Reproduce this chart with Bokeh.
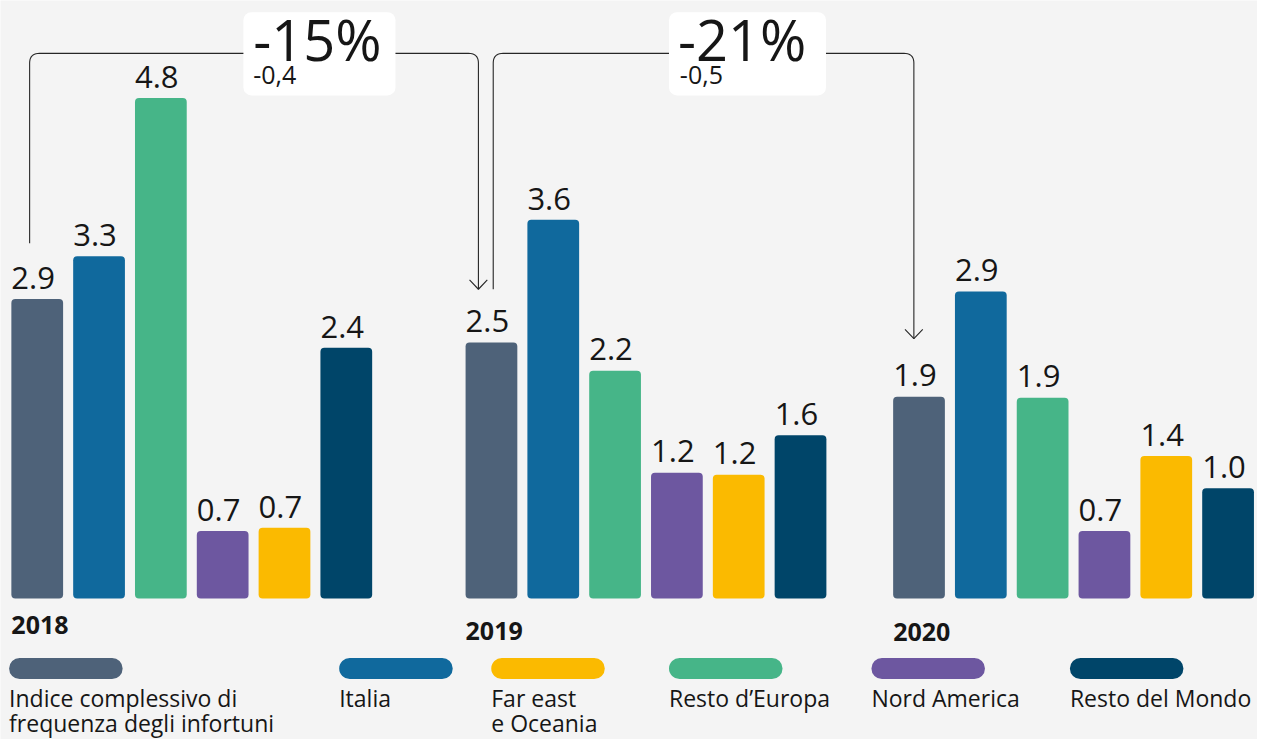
import math
from bokeh.plotting import figure
from bokeh.models import ColumnDataSource, Range1d
from bokeh.core.properties import value
from bokeh.embed import file_html
from bokeh.resources import INLINE

# ---------------- data ----------------
years = ["2018", "2019", "2020"]
series = ["Indice complessivo di\nfrequenza degli infortuni", "Italia", "Resto d’Europa",
          "Nord America", "Far east\ne Oceania", "Resto del Mondo"]
colors = ["#4e6279", "#10699d", "#46b588", "#6d57a0", "#fbba00", "#004569"]
values_2018 = [2.88, 3.29, 4.81, 0.65, 0.68, 2.41]
values_2019 = [2.46, 3.64, 2.19, 1.21, 1.19, 1.57]
values_2020 = [1.94, 2.95, 1.93, 0.65, 1.37, 1.06]
labels_2018 = ["2.9", "3.3", "4.8", "0.7", "0.7", "2.4"]
labels_2019 = ["2.5", "3.6", "2.2", "1.2", "1.2", "1.6"]
labels_2020 = ["1.9", "2.9", "1.9", "0.7", "1.4", "1.0"]
changes_pct = ["-15%", "-21%"]
changes_abs = ["-0,4", "-0,5"]
legend_order = [0, 1, 4, 2, 3, 5]

all_values = [values_2018, values_2019, values_2020]
all_labels = [labels_2018, labels_2019, labels_2020]

# ---------------- layout (reference pixel space) ----------------
PX = 106.3          # reference pixels per unit
BASE = 611.0        # reference y of bar baseline
SY = 739 / 755      # screen px per reference px (vertical)
def Y(ypx):
    return (BASE - ypx) / PX

def TY(baseline_px, fs):
    # compensate for the line-box based placement of alphabetic text
    return Y(baseline_px - 0.37 * fs / SY)

GROUP_LEFT = [11, 471, 904]
PITCH = 62.6
BAR_W = 52.4
YEAR_BASE = [647.7, 653.3, 655.0]
LEG_LEFT = [8.7, 343, 497, 677, 882, 1083]
LEG_W = 115
FONT = "Open Sans"
TXT = "#161616"
BG = "#f4f4f4"
FS_VAL, FS_YEAR, FS_PCT, FS_ABS, FS_LEG = 31, 25, 56, 25, 23

p = figure(width=1257, height=739, x_range=Range1d(0, 1273), y_range=Range1d(Y(755), Y(0)),
           output_backend="svg", toolbar_location=None, min_border=0)
p.axis.visible = False
p.xgrid.visible = False
p.ygrid.visible = False
p.outline_line_color = None
p.background_fill_color = BG
p.border_fill_color = BG

# ---------------- bars ----------------
xs, tops, cols, lx, ly, labs = [], [], [], [], [], []
for g in range(3):
    for i in range(6):
        left = GROUP_LEFT[g] + i * PITCH
        xs.append(left + BAR_W / 2)
        tops.append(all_values[g][i])
        cols.append(colors[i])
        lx.append(left)
        ly.append(all_values[g][i] + (10 + 0.37 * FS_VAL / SY) / PX)
        labs.append(all_labels[g][i])
src = ColumnDataSource(dict(x=xs, top=tops, color=cols, lx=lx, ly=ly, lab=labs))
p.vbar(x="x", top="top", bottom=0, width=BAR_W, fill_color="color", line_color=None,
       border_radius=4, source=src)
p.text(x="lx", y="ly", text="lab", source=src, text_font=value(FONT),
       text_font_size=f"{FS_VAL}px", text_color=TXT, text_align="left",
       text_baseline="alphabetic")

# year labels
p.text(x=[GROUP_LEFT[g] for g in range(3)], y=[TY(b, FS_YEAR) for b in YEAR_BASE], text=years,
       text_font=value(FONT), text_font_size=f"{FS_YEAR}px", text_font_style="bold",
       text_color=TXT, text_align="left", text_baseline="alphabetic")

# ---------------- connectors ----------------
def rounded(pts, r=10, n=10):
    out = [pts[0]]
    for k in range(1, len(pts) - 1):
        (x0, y0), (x1, y1), (x2, y2) = pts[k - 1], pts[k], pts[k + 1]
        l1 = math.hypot(x1 - x0, y1 - y0)
        l2 = math.hypot(x2 - x1, y2 - y1)
        ax, ay = x1 - (x1 - x0) / l1 * r, y1 - (y1 - y0) / l1 * r
        bx, by = x1 + (x2 - x1) / l2 * r, y1 + (y2 - y1) / l2 * r
        for j in range(n + 1):
            t = j / n
            out.append(((1 - t) ** 2 * ax + 2 * (1 - t) * t * x1 + t ** 2 * bx,
                        (1 - t) ** 2 * ay + 2 * (1 - t) * t * y1 + t ** 2 * by))
    out.append(pts[-1])
    return out

connectors = [[(29.5, 248), (29.5, 54), (484, 54), (484, 295)],
              [(499, 295), (499, 54), (925, 54), (925, 345.5)]]
LINE_C = "#262626"
for c in connectors:
    path = rounded(c)
    p.line([q[0] for q in path], [Y(q[1]) for q in path], line_color=LINE_C, line_width=1.1)
    tx, ty = c[-1]
    p.line([tx - 9, tx, tx + 9], [Y(ty - 9.5), Y(ty), Y(ty - 9.5)], line_color=LINE_C,
           line_width=1.1)

# boxes with changes
boxes = [(246, 400), (677, 836)]
p.quad(left=[b[0] for b in boxes], right=[b[1] for b in boxes], top=Y(12), bottom=Y(97),
       fill_color="white", line_color=None, border_radius=8)
p.text(x=[256, 686], y=[TY(60, FS_PCT), TY(60.5, FS_PCT)], text=changes_pct,
       text_font=value(FONT), text_font_size=f"{FS_PCT}px", text_color=TXT,
       text_align="left", text_baseline="alphabetic")
p.text(x=[256, 688], y=[TY(86, FS_ABS), TY(86, FS_ABS)], text=changes_abs,
       text_font=value(FONT), text_font_size=f"{FS_ABS}px", text_color=TXT,
       text_align="left", text_baseline="alphabetic")

# ---------------- legend ----------------
leg_cols = [colors[i] for i in legend_order]
p.quad(left=LEG_LEFT, right=[l + LEG_W for l in LEG_LEFT], top=Y(671.7), bottom=Y(693.3),
       fill_color=leg_cols, line_color=None, border_radius=11)
tx, ty, tt = [], [], []
for k, i in enumerate(legend_order):
    for j, line in enumerate(series[i].split("\n")):
        tx.append(LEG_LEFT[k])
        ty.append(TY(721 + 26 * j, FS_LEG))
        tt.append(line)
p.text(x=tx, y=ty, text=tt, text_font=value(FONT), text_font_size=f"{FS_LEG}px",
       text_color=TXT, text_align="left", text_baseline="alphabetic")

open("out.html", "w").write(file_html(p, INLINE))
